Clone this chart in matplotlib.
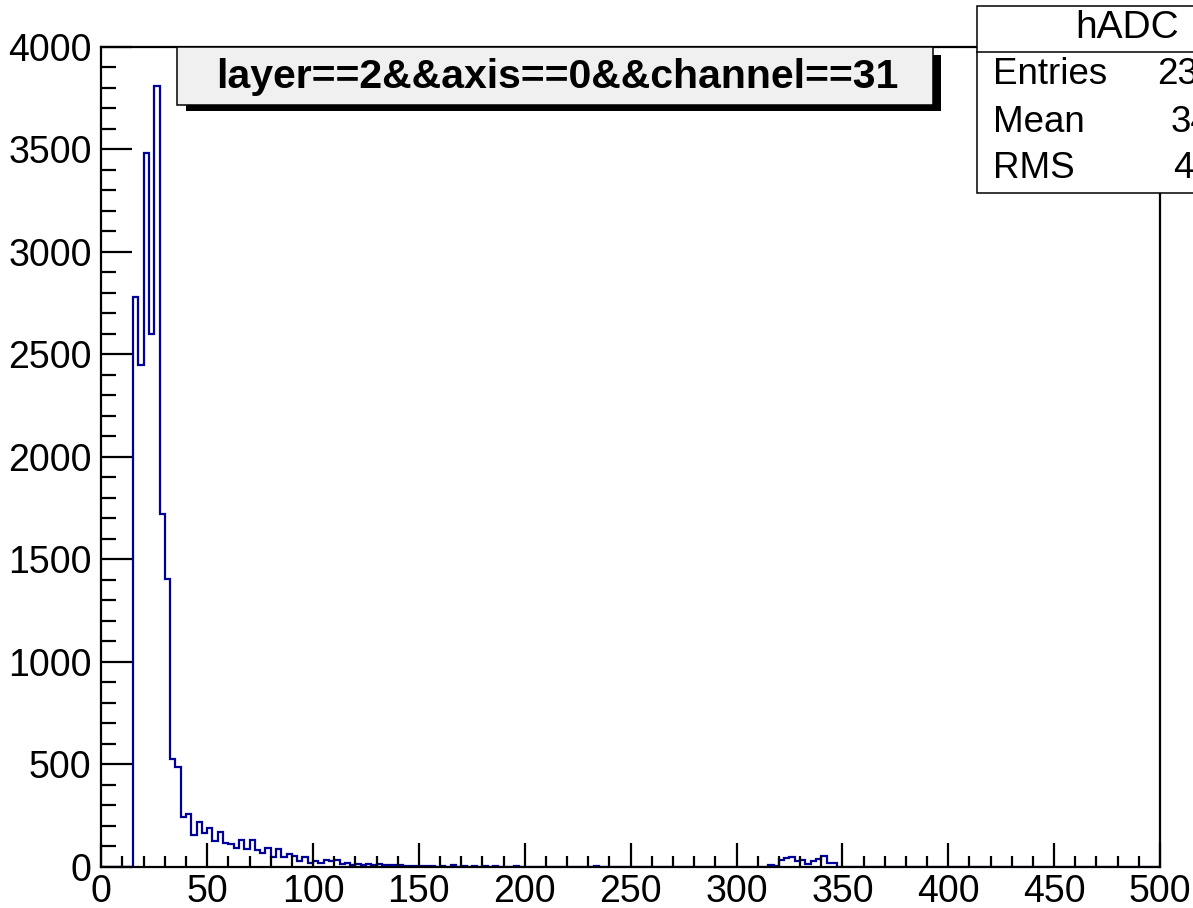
import numpy as np
from matplotlib import pyplot as plt
from matplotlib.patches import Rectangle
from matplotlib.lines import Line2D
from matplotlib.ticker import MultipleLocator

plt.rcParams['font.family'] = ['Liberation Sans', 'DejaVu Sans']

# histogram binning: 200 bins of 2.5 ADC counts between 0 and 500
bin_width = 2.5
n_bins = 200

# counts, bins starting at ADC = 15
main_start = 15.0
main_counts = [
    2780, 2445, 3480, 2600, 3810, 1720, 1405, 525, 484, 241,
    257, 154, 219, 163, 187, 125, 168, 117, 110, 93,
    132, 85, 132, 81, 65, 90, 49, 85, 49, 60,
    52, 29, 45, 19, 29, 19, 34, 26, 32, 15,
    18, 10, 13, 8, 12, 8, 13, 10, 10, 6,
    8, 4, 5, 5, 4, 3, 3,
]

# a few scattered entries further out
tail_x = [160, 165, 170, 175, 180, 185, 195, 232.5]
tail_y = [2, 8, 2, 4, 4, 4, 2, 5]

# small bump near 330
bump_start = 315.0
bump_counts = [8, 3, 32, 44, 49, 28, 32, 15, 30, 40, 50, 16, 16]

stats_labels = ["Entries", "Mean", "RMS"]
stats_values = ["23180", "34.52", "43.07"]
hist_name = "hADC"
title = "layer==2&&axis==0&&channel==31"

edges = np.linspace(0, 500, n_bins + 1)
counts = np.zeros(n_bins)
i0 = int(round(main_start / bin_width))
counts[i0:i0 + len(main_counts)] = main_counts
for x, y in zip(tail_x, tail_y):
    counts[int(round(x / bin_width))] = y
i0 = int(round(bump_start / bin_width))
counts[i0:i0 + len(bump_counts)] = bump_counts

W, H = 1193, 908
fig = plt.figure(figsize=(W / 100, H / 100), dpi=100)

def fx(x):
    return x / W

def fy(y):
    return 1 - y / H

ax = fig.add_axes([fx(101.3), fy(866.7), (1160 - 101.3) / W, (866.7 - 46.7) / H])

ax.stairs(counts, edges, color="#000099", lw=1.6)

ax.set_xlim(0, 500)
ax.set_ylim(0, 4000)
ax.xaxis.set_major_locator(MultipleLocator(50))
ax.xaxis.set_minor_locator(MultipleLocator(10))
ax.yaxis.set_major_locator(MultipleLocator(500))
ax.yaxis.set_minor_locator(MultipleLocator(100))

for s in ax.spines.values():
    s.set_linewidth(1.6)

ax.tick_params(axis="both", which="both", direction="in", top=False, right=False, width=1.6, labelsize=27)
ax.tick_params(axis="x", which="major", length=17.5, pad=5)
ax.tick_params(axis="x", which="minor", length=8.2)
ax.tick_params(axis="y", which="major", length=22.3, pad=7)
ax.tick_params(axis="y", which="minor", length=10.8)

# title box with shadow
fig.patches.append(Rectangle((fx(186), fy(111)), fx(941 - 186), (111 - 55) / H,
                             transform=fig.transFigure, facecolor="black", edgecolor="black", lw=0, zorder=5))
fig.patches.append(Rectangle((fx(177), fy(105)), fx(933 - 177), (105 - 47) / H,
                             transform=fig.transFigure, facecolor="#f0f0f0", edgecolor="black", lw=1.1, zorder=6))
fig.text(fx(557), fy(77), title, ha="center", va="center", fontsize=29.5, fontweight="bold", zorder=7)

# stats box, runs past the right edge
fig.patches.append(Rectangle((fx(977.3), fy(192.7)), fx(1400 - 977.3), (192.7 - 6) / H,
                             transform=fig.transFigure, facecolor="white", edgecolor="black", lw=1.1, zorder=5))
fig.lines.append(Line2D([fx(977.3), fx(1400)], [fy(51.7), fy(51.7)], transform=fig.transFigure,
                        color="black", lw=1.1, zorder=6))
fig.text(fx(1075), fy(38), hist_name, ha="left", va="baseline", fontsize=28, zorder=7)
row_y = [75, 122, 169]
value_x = [1156.7, 1170.7, 1173.3]
for lab, val, y, vx in zip(stats_labels, stats_values, row_y, value_x):
    fig.text(fx(993.3), fy(y), lab, ha="left", va="center", fontsize=26.5, zorder=7)
    fig.text(fx(vx), fy(y), val, ha="left", va="center", fontsize=26.5, zorder=7)

fig.savefig("out.png", dpi=100)
